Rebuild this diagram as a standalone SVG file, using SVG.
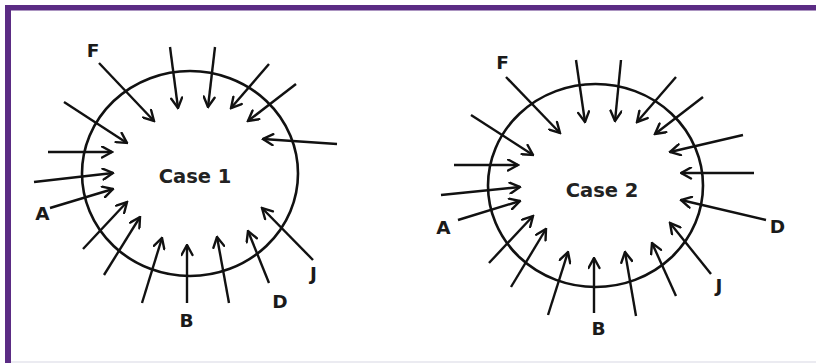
<svg xmlns="http://www.w3.org/2000/svg" width="816" height="363" viewBox="0 0 816 363">
<defs>
<style>
.ring{fill:none;stroke:#111;stroke-width:2.6}
.title{font-family:"DejaVu Sans","Liberation Sans",sans-serif;font-weight:bold;font-size:19.5px;fill:#222;text-anchor:middle}
.lbl{font-family:"DejaVu Sans","Liberation Sans",sans-serif;font-weight:bold;font-size:18.5px;fill:#1a1a1a;text-anchor:middle}
.arr line{stroke:#111;stroke-width:2.4;marker-end:url(#head)}
</style>
<marker id="head" markerUnits="userSpaceOnUse" viewBox="0 0 13 13" markerWidth="13" markerHeight="13" refX="11.5" refY="6.5" orient="auto">
<path d="M1.5,1 L11.5,6.5 L1.5,12" fill="none" stroke="#111" stroke-width="2.4" stroke-linecap="round" stroke-linejoin="miter"/>
</marker>
</defs>
<rect x="0" y="0" width="816" height="363" fill="#ffffff"/>
<g id="frame">
<rect x="5" y="5" width="811" height="5.5" fill="#5b2c84"/>
<rect x="5" y="5" width="6" height="358" fill="#5b2c84"/>
<line x1="11" y1="362" x2="816" y2="362" stroke="#e4e4ec" stroke-width="1.5"/>
</g>
<g id="case1">
<ellipse class="ring" cx="190" cy="173.5" rx="108" ry="102.5"/>
<text class="title" x="195" y="183">Case 1</text>
</g>
<g id="case2">
<ellipse class="ring" cx="595.5" cy="185.5" rx="107.5" ry="101.5"/>
<text class="title" x="602" y="197">Case 2</text>
</g>
<g id="label-F1"><text class="lbl" x="93" y="57">F</text></g>
<g id="label-A1"><text class="lbl" x="42.5" y="220">A</text></g>
<g id="label-B1"><text class="lbl" x="186.5" y="327">B</text></g>
<g id="label-D1"><text class="lbl" x="280" y="308">D</text></g>
<g id="label-J1"><text class="lbl" x="313.5" y="280">J</text></g>
<g id="label-F2"><text class="lbl" x="502.5" y="69">F</text></g>
<g id="label-A2"><text class="lbl" x="443.5" y="234">A</text></g>
<g id="label-B2"><text class="lbl" x="598.5" y="335">B</text></g>
<g id="label-D2"><text class="lbl" x="777.5" y="233">D</text></g>
<g id="label-J2"><text class="lbl" x="719" y="292">J</text></g>
<g id="connectors" class="arr">
<line x1="99" y1="63" x2="154" y2="121"/>
<line x1="170" y1="47" x2="178" y2="108"/>
<line x1="215" y1="47" x2="208" y2="107"/>
<line x1="269" y1="64" x2="231" y2="108"/>
<line x1="296" y1="84" x2="248" y2="121"/>
<line x1="337" y1="144" x2="263" y2="139"/>
<line x1="64" y1="102" x2="127" y2="143"/>
<line x1="48" y1="152" x2="112" y2="152"/>
<line x1="34" y1="182" x2="113" y2="173"/>
<line x1="50" y1="208" x2="113" y2="189"/>
<line x1="83" y1="249" x2="127" y2="202"/>
<line x1="104" y1="275" x2="140" y2="217"/>
<line x1="142" y1="303" x2="162" y2="238"/>
<line x1="187" y1="303" x2="187" y2="245"/>
<line x1="229" y1="303" x2="217" y2="237"/>
<line x1="269" y1="283" x2="248" y2="231"/>
<line x1="313" y1="260" x2="262" y2="208"/>
<line x1="506" y1="77" x2="560" y2="133"/>
<line x1="576" y1="60" x2="585" y2="122"/>
<line x1="621" y1="60" x2="615" y2="121"/>
<line x1="676" y1="77" x2="637" y2="122"/>
<line x1="703" y1="97" x2="655" y2="134"/>
<line x1="743" y1="135" x2="670" y2="152"/>
<line x1="754" y1="173" x2="681" y2="173"/>
<line x1="766" y1="220" x2="681" y2="200"/>
<line x1="711" y1="274" x2="670" y2="223"/>
<line x1="676" y1="296" x2="652" y2="243"/>
<line x1="636" y1="316" x2="625" y2="252"/>
<line x1="594" y1="313" x2="594" y2="258"/>
<line x1="548" y1="315" x2="568" y2="252"/>
<line x1="511" y1="287" x2="546" y2="229"/>
<line x1="489" y1="263" x2="533" y2="216"/>
<line x1="458" y1="220" x2="520" y2="201"/>
<line x1="441" y1="195" x2="520" y2="187"/>
<line x1="454" y1="165" x2="518" y2="165"/>
<line x1="471" y1="115" x2="533" y2="155"/>
</g>
</svg>
